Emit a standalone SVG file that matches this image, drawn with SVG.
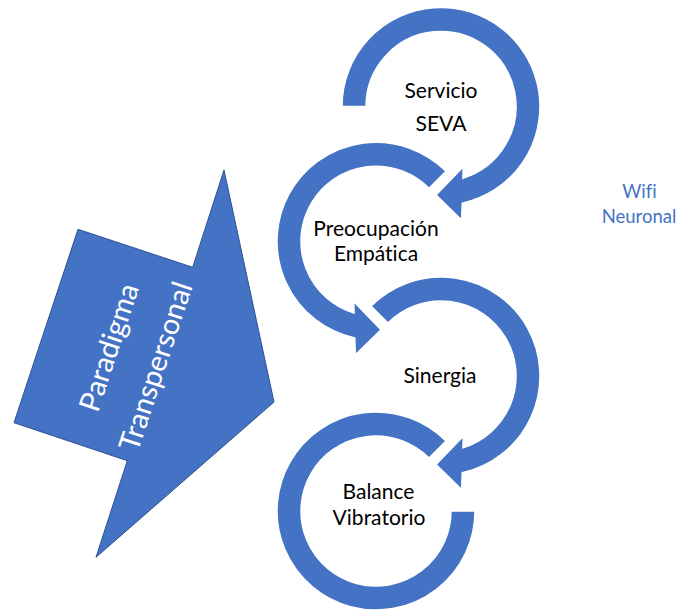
<svg xmlns="http://www.w3.org/2000/svg" width="689" height="611" viewBox="0 0 689 611">
<style>
text{font-variant-ligatures:none;font-family:Lato,"Liberation Sans",sans-serif;text-anchor:middle}
.ring{fill:#4472C4;stroke:#fff;stroke-width:1.5;stroke-linejoin:miter}
.lbl{font-size:21px;fill:#000}
.wl{font-size:18.5px;fill:#4472C4}
.al{font-size:29px;fill:#fff}
</style>
<rect width="689" height="611" fill="#fff"/>
<g id="paradigma">
<polygon points="224,170 192.7,267.3 78,229.3 14,422.7 127.3,460.7 96,557.3 274,402" fill="#4472C4" stroke="#2F528F" stroke-width="1"/>
<text class="al" transform="translate(109,347.3) rotate(-71.7)" y="10">Paradigma</text>
<text class="al" transform="translate(155.7,366.3) rotate(-71.7)" y="10">Transpersonal</text>
</g>
<g id="servicio">
<path class="ring" d="M342,106.5 A99,99 0 1 1 462.26,203.19 L461.64,220.04 L436.05,194.96 L463.27,166.71 L462.93,178.22 A75,75 0 1 0 366,106.5 Z"/>
<text class="lbl" x="441" y="97.5">Servicio</text>
<text class="lbl" x="441" y="131">SEVA</text>
</g>
<g id="preocupacion">
<path class="ring" d="M446,171.3 A99,99 0 1 0 354.74,337.99 L355.36,354.84 L380.95,329.76 L353.73,301.51 L354.07,313.02 A75,75 0 1 1 429.03,188.27 Z"/>
<text class="lbl" x="376" y="236">Preocupación</text>
<text class="lbl" x="376" y="261.3">Empática</text>
</g>
<g id="sinergia">
<path class="ring" d="M371,306 A99,99 0 1 1 462.26,472.69 L461.64,489.54 L436.05,464.46 L463.27,436.21 L462.93,447.72 A75,75 0 1 0 387.97,322.97 Z"/>
<text class="lbl" x="440" y="383.3">Sinergia</text>
</g>
<g id="balance">
<path class="ring" d="M446,441 A99,99 0 1 0 475,511 L451,511 A75,75 0 1 1 429.03,457.97 Z"/>
<text class="lbl" x="378.5" y="499.4">Balance</text>
<text class="lbl" x="379" y="524.7">Vibratorio</text>
</g>
<g id="wifi">
<text class="wl" x="639.5" y="198.3">Wifi</text>
<text class="wl" x="639" y="223.3">Neuronal</text>
</g>
<g id="connectors"/>
</svg>
